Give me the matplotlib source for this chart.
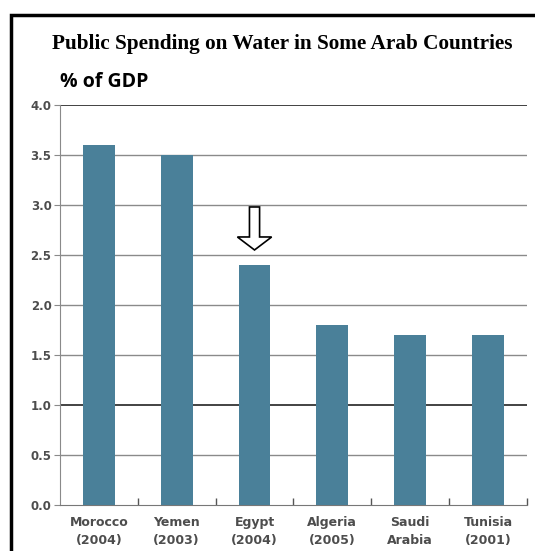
import numpy as np
import matplotlib.pyplot as plt
from matplotlib.patches import FancyArrow, Rectangle

countries = ["Morocco\n(2004)", "Yemen\n(2003)", "Egypt\n(2004)",
             "Algeria\n(2005)", "Saudi\nArabia", "Tunisia\n(2001)"]
spending = [3.6, 3.5, 2.4, 1.8, 1.7, 1.7]   # % of GDP
yticks = [0.0, 0.5, 1.0, 1.5, 2.0, 2.5, 3.0, 3.5, 4.0]

bar_color = "#4a8099"
label_color = "#4d4d4d"

fig = plt.figure(figsize=(5.35, 5.51), dpi=100)
ax = fig.add_axes([0.112, 0.0835, 0.873, 0.726])

x = np.arange(len(countries))
ax.bar(x, spending, width=0.41, color=bar_color, zorder=3)

ax.set_xlim(-0.5, len(countries) - 0.5)
ax.set_ylim(0, 4.0)

# horizontal rules, the 1.0 line drawn darker
for v in yticks[1:]:
    if v == 4.0:
        ax.axhline(v, color="#333333", lw=1.3, zorder=1)
    elif v == 1.0:
        ax.axhline(v, color="#222222", lw=1.2, zorder=1)
    else:
        ax.axhline(v, color="#8a8a8a", lw=1.0, zorder=1)

ax.set_yticks(yticks)
ax.set_yticklabels([f"{v:.1f}" for v in yticks], fontsize=8.5,
                   fontweight="bold", color=label_color)
ax.tick_params(axis="y", length=4, color="#8a8a8a", pad=2)

# category labels centred on bars, small ticks at category boundaries
ax.set_xticks(x)
ax.set_xticklabels(countries, fontsize=9, fontweight="bold",
                   color=label_color, linespacing=1.5)
ax.tick_params(axis="x", length=0, pad=8)
ax.set_xticks(np.arange(0.5, len(countries) + 0.5, 1.0), minor=True)
ax.tick_params(axis="x", which="minor", direction="in", length=5,
               color="#555555", width=1)

for side in ["top", "right"]:
    ax.spines[side].set_visible(False)
ax.spines["left"].set_color("#8a8a8a")
ax.spines["bottom"].set_color("#777777")

# hollow arrow pointing at Egypt
arrow = FancyArrow(2.0, 2.98, 0, -0.43, width=0.13, head_width=0.44,
                   head_length=0.13, length_includes_head=True,
                   facecolor="white", edgecolor="black", lw=1.2, zorder=4,
                   clip_on=False)
ax.add_patch(arrow)

# outer frame
frame = Rectangle((0.0206, -0.01), 1.0, 0.983, transform=fig.transFigure,
                  fill=False, edgecolor="black", lw=2.5)
fig.patches.append(frame)

fig.text(0.528, 0.921, "Public Spending on Water in Some Arab Countries",
         ha="center", va="center", fontsize=15.3, fontweight="bold",
         family="Liberation Serif")
fig.text(0.112, 0.851, "% of GDP", ha="left", va="center", fontsize=14,
         fontweight="bold", family="Open Sans")

fig.savefig("out.png", dpi=100)
